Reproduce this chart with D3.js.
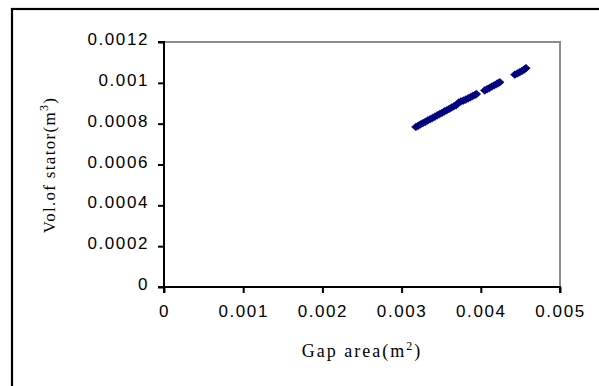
<!DOCTYPE html>
<html><head><meta charset="utf-8">
<script src="https://cdn.jsdelivr.net/npm/d3@7"></script>
<style>body{margin:0;background:#fff}svg{display:block}</style>
</head><body>
<script>
const gapArea = [0.00318,0.00321,0.00324,0.00327,0.00330,0.00333,0.00336,0.00339,0.00342,0.00345,0.00348,0.00351,0.00354,0.00357,0.00360,0.00363,0.00366,0.00369,0.00372,0.00375,0.00378,0.00381,0.00384,0.00387,0.00390,0.00393,0.003945,
  0.00405,0.00408,0.00411,0.00414,0.00417,0.00420,0.00422,0.00424,
  0.00443,0.00446,0.00449,0.00452,0.00455,0.00457];
const statorVol = [0.000784,0.000790,0.000797,0.000803,0.000809,0.000816,0.000822,0.000828,0.000834,0.000841,0.000847,0.000853,0.000860,0.000866,0.000872,0.000879,0.000885,0.000891,0.000903,0.000909,0.000913,0.000918,0.000924,0.000930,0.000936,0.000942,0.000945,
  0.000963,0.000969,0.000975,0.000982,0.000988,0.000994,0.000999,0.001003,
  0.001040,0.001046,0.001052,0.001058,0.001066,0.001072];
const xTicks = [0,0.001,0.002,0.003,0.004,0.005];
const yTicks = [0,0.0002,0.0004,0.0006,0.0008,0.001,0.0012];
const xTickLabels = ["0","0.001","0.002","0.003","0.004","0.005"];
const yTickLabels = ["0","0.0002","0.0004","0.0006","0.0008","0.001","0.0012"];

const W=599,H=386;
const svg=d3.select("body").append("svg").attr("width",W).attr("height",H);
// outer frame
svg.append("rect").attr("x",12).attr("y",9).attr("width",W+20).attr("height",H+20)
  .attr("fill","none").attr("stroke","#000").attr("stroke-width",2.2);

const L=164,R=560,T=42,B=287;
const x=d3.scaleLinear().domain([0,0.005]).range([L,R]);
const y=d3.scaleLinear().domain([0,0.0012]).range([B,T]);

// plot frame top/right gray
svg.append("path").attr("d",`M${L},${T}H${R}V${B}`).attr("fill","none")
  .attr("stroke","#8c8c8c").attr("stroke-width",2);

const xAxis=svg.append("g").attr("transform",`translate(0,${B})`)
  .call(d3.axisBottom(x).tickValues(xTicks).tickFormat((d,i)=>xTickLabels[i]).tickSize(6).tickPadding(12));
const yAxis=svg.append("g").attr("transform",`translate(${L},0)`)
  .call(d3.axisLeft(y).tickValues(yTicks).tickFormat((d,i)=>yTickLabels[i]).tickSize(6).tickPadding(9));
[xAxis,yAxis].forEach(g=>{
  g.select(".domain").attr("stroke","#000").attr("stroke-width",2);
  g.selectAll(".tick line").attr("stroke","#000").attr("stroke-width",2);
  g.selectAll(".tick text").attr("fill","#000").attr("font-family","'Liberation Sans',Arial,sans-serif")
   .attr("font-size","17px").attr("letter-spacing","1.6px");
});
yAxis.selectAll(".tick text").attr("dy","0.15em");
yAxis.select(".domain").attr("d",`M-6,${B}H0V${T}H-6`);
xAxis.select(".domain").attr("d",`M${L},6V0H${R}V6`);

// markers
const dpath="M0,-3.8L4.3,0L0,3.8L-4.3,0Z";
svg.append("g").selectAll("path").data(gapArea).join("path")
  .attr("d",dpath).attr("transform",(d,i)=>`translate(${x(d)},${y(statorVol[i])})`)
  .attr("fill","#000080").attr("stroke","#000080").attr("stroke-width",0.6);

// axis titles
const xt=svg.append("text").attr("x",362).attr("y",357).attr("text-anchor","middle")
  .attr("font-family","'Liberation Serif','Times New Roman',serif").attr("font-size","18px").attr("letter-spacing","2px");
xt.append("tspan").text("Gap area(m");
xt.append("tspan").attr("dy",-7).attr("font-size","12px").text("2");
xt.append("tspan").attr("dy",7).text(")");

const yt=svg.append("text").attr("transform","translate(55,165) rotate(-90)").attr("text-anchor","middle")
  .attr("font-family","'Liberation Serif','Times New Roman',serif").attr("font-size","17px").attr("letter-spacing","1.3px");
yt.append("tspan").text("Vol.of stator(m");
yt.append("tspan").attr("dy",-7).attr("font-size","12px").text("3");
yt.append("tspan").attr("dy",7).text(")");
</script>
</body></html>
